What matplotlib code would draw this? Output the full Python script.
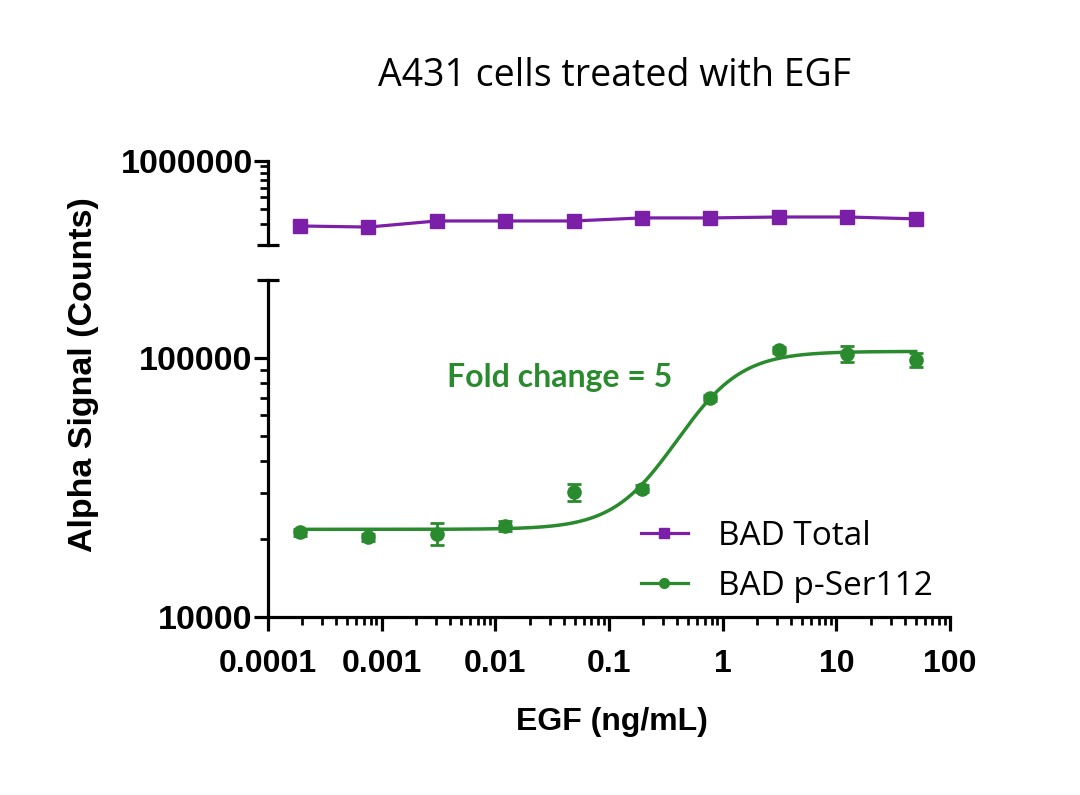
import numpy as np
import matplotlib
matplotlib.use("Agg")
import matplotlib.pyplot as plt
from matplotlib.ticker import FixedLocator, FixedFormatter, NullFormatter, LogLocator
from matplotlib.lines import Line2D
from matplotlib.font_manager import FontProperties

# ---------------- data ----------------
egf_conc = [0.000191, 0.000763, 0.00305, 0.0122, 0.0488, 0.195, 0.781, 3.125, 12.5, 50.0]
bad_total = [288000, 282000, 317000, 317000, 317000, 336000, 336000, 342000, 342000, 330000]
bad_pser112 = [21200, 20300, 21000, 22400, 30300, 31300, 70200, 107300, 103600, 98300]
bad_pser112_sd = [600, 700, 2100, 1000, 2300, 900, 2000, 2500, 7500, 6000]

# 4-parameter logistic fit of p-Ser112
fit_bottom = 21800
fit_top = 106000
fit_ec50 = 0.65
fit_hill = 1.6

x_ticks = [0.0001, 0.001, 0.01, 0.1, 1, 10, 100]
x_ticklabels = ["0.0001", "0.001", "0.01", "0.1", "1", "10", "100"]
y_ticks_low = [10000, 100000]
y_ticklabels_low = ["10000", "100000"]
y_ticks_high = [1000000]
y_ticklabels_high = ["1000000"]

title = "A431 cells treated with EGF"
xlabel = "EGF (ng/mL)"
ylabel = "Alpha Signal (Counts)"
annotation = "Fold change = 5"
legend_labels = ["BAD Total", "BAD p-Ser112"]

purple = "#7B1FA8"
green = "#2A8A2E"

# ---------------- figure ----------------
fig = plt.figure(figsize=(10.8, 7.95), dpi=100)
L, W = 268 / 1080, (950 - 268) / 1080
ax_b = fig.add_axes([L, 1 - 617 / 795, W, (617 - 280) / 795])
ax_t = fig.add_axes([L, 1 - 245 / 795, W, (245 - 161) / 795], sharex=ax_b)

lw = 2.3

for ax in (ax_b, ax_t):
    ax.set_xscale("log")
    ax.set_yscale("log")
    ax.patch.set_alpha(0)
    for s in ("top", "right"):
        ax.spines[s].set_visible(False)
    ax.spines["left"].set_linewidth(lw)
    ax.spines["bottom"].set_linewidth(lw)
    ax.tick_params(axis="both", which="major", direction="out", length=10, width=lw, pad=1)
    ax.tick_params(axis="both", which="minor", direction="out", length=6, width=lw * 0.85)

ax_t.spines["bottom"].set_visible(False)
ax_t.tick_params(axis="x", which="both", bottom=False, labelbottom=False)

ax_b.set_xlim(1e-4, 100)
ax_b.set_ylim(1e4, 2e5)
ax_t.set_ylim(2e5, 1e6)

ax_b.xaxis.set_major_locator(FixedLocator(x_ticks))
ax_b.xaxis.set_major_formatter(FixedFormatter(x_ticklabels))
ax_b.xaxis.set_minor_locator(LogLocator(base=10, subs=np.arange(2, 10), numticks=20))
ax_b.xaxis.set_minor_formatter(NullFormatter())
ax_b.tick_params(axis="x", which="major", pad=13)

ax_b.yaxis.set_major_locator(FixedLocator(y_ticks_low))
ax_b.yaxis.set_major_formatter(FixedFormatter(y_ticklabels_low))
ax_b.yaxis.set_minor_locator(LogLocator(base=10, subs=np.arange(2, 10), numticks=20))
ax_b.yaxis.set_minor_formatter(NullFormatter())

ax_t.yaxis.set_major_locator(FixedLocator(y_ticks_high))
ax_t.yaxis.set_major_formatter(FixedFormatter(y_ticklabels_high))
ax_t.yaxis.set_minor_locator(LogLocator(base=10, subs=np.arange(2, 10), numticks=20))
ax_t.yaxis.set_minor_formatter(NullFormatter())

xfp = FontProperties(family="Liberation Sans", weight="bold", size=23)
yfp = FontProperties(family="Liberation Sans", weight="bold", size=24.5)
for ax in (ax_b, ax_t):
    for lbl in ax.get_xticklabels():
        lbl.set_fontproperties(xfp)
    for lbl in ax.get_yticklabels():
        lbl.set_fontproperties(yfp)

# segment end caps of the broken axis
ax_t.plot([-0.016, 0.016], [0, 0], transform=ax_t.transAxes, color="black", lw=lw, clip_on=False, solid_capstyle="butt")
ax_b.plot([-0.016, 0.016], [1, 1], transform=ax_b.transAxes, color="black", lw=lw, clip_on=False, solid_capstyle="butt")

# BAD Total (top segment)
ax_t.plot(egf_conc, bad_total, color=purple, lw=2.3, marker="s", markersize=9.5, clip_on=False, zorder=3)

# BAD p-Ser112 (bottom segment)
ax_b.errorbar(egf_conc, bad_pser112, yerr=bad_pser112_sd, fmt="o", color=green, markersize=9.5,
              elinewidth=2, capsize=5, capthick=2, zorder=3)
xfit = np.logspace(np.log10(egf_conc[0]), np.log10(egf_conc[-1]), 400)
yfit = fit_bottom + (fit_top - fit_bottom) / (1 + (fit_ec50 / xfit) ** fit_hill)
ax_b.plot(xfit, yfit, color=green, lw=2.5, zorder=2)

ax_b.text(0.037, 83800, annotation, color=green, fontsize=23, fontweight="bold",
          family="Lato", ha="center", va="center")

# legend
handles = [
    Line2D([], [], color=purple, lw=2.3, marker="s", markersize=7),
    Line2D([], [], color=green, lw=2.3, marker="o", markersize=7),
]
fig.legend(handles, legend_labels, loc="upper left", bbox_to_anchor=(641 / 1080, 1 - 520 / 795),
           frameon=False, prop=dict(family="Open Sans", size=24), handlelength=1.4,
           handletextpad=0.9, labelspacing=0.5, borderaxespad=0, borderpad=0)

# texts
fig.text(615 / 1080, 1 - 76 / 795, title, ha="center", va="center", fontsize=27, family="Open Sans")
fig.text(612 / 1080, 1 - 722 / 795, xlabel, ha="center", va="center", fontsize=23,
         family="Liberation Sans", fontweight="bold")
fig.text(84 / 1080, 1 - 375 / 795, ylabel, ha="center", va="center", rotation=90, fontsize=24.5,
         family="Liberation Sans", fontweight="bold")

fig.savefig("out.png", dpi=100)
